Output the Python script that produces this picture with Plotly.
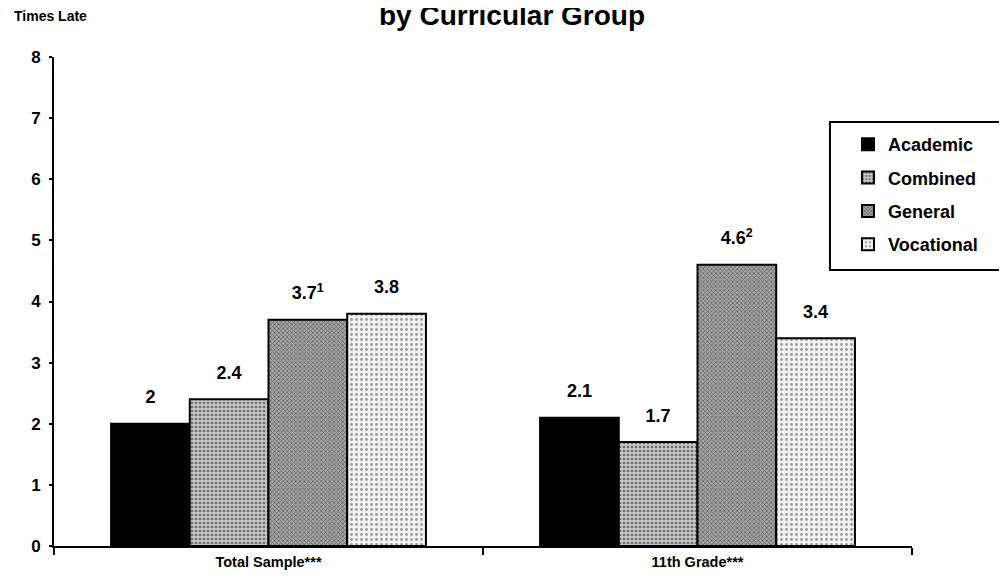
import plotly.graph_objects as go

categories = ["Total Sample***", "11th Grade***"]
series_names = ["Academic", "Combined", "General", "Vocational"]
academic = [2, 2.1]
combined = [2.4, 1.7]
general = [3.7, 4.6]
vocational = [3.8, 3.4]
label_text = {
    "Academic": ["2", "2.1"],
    "Combined": ["2.4", "1.7"],
    "General": ["3.7<sup>1</sup>", "4.6<sup>2</sup>"],
    "Vocational": ["3.8", "3.4"],
}
y_ticks = [0, 1, 2, 3, 4, 5, 6, 7, 8]

values = {"Academic": academic, "Combined": combined, "General": general, "Vocational": vocational}
styles = {
    "Academic": dict(color="#000000", pattern=None),
    "Combined": dict(color="#b4b4b4", pattern=dict(shape=".", fgcolor="#6a6a6a", bgcolor="#c8c8c8", size=4, solidity=0.35, fillmode="replace")),
    "General": dict(color="#8c8c8c", pattern=dict(shape="x", fgcolor="#555555", bgcolor="#a8a8a8", size=3, solidity=0.4, fillmode="replace")),
    "Vocational": dict(color="#e4e4e4", pattern=dict(shape=".", fgcolor="#9a9a9a", bgcolor="#f2f2f2", size=5, solidity=0.25, fillmode="replace")),
}

FONT = "Arial, Liberation Sans, sans-serif"
BARGAP = 0.266
fig = go.Figure()
for name in series_names:
    st = styles[name]
    marker = dict(color=st["color"], line=dict(color="#000000", width=2))
    if st["pattern"]:
        marker["pattern"] = st["pattern"]
    fig.add_trace(go.Bar(
        name=name, x=categories, y=values[name],
        marker=marker, legendgroup=name, offsetgroup=name, alignmentgroup="a",
        hoverinfo="x+y+name",
    ))
for name in series_names:
    fig.add_trace(go.Scatter(
        x=categories, y=values[name], text=label_text[name],
        mode="markers+text", textposition="top center", cliponaxis=False,
        marker=dict(size=24, color="rgba(0,0,0,0)"),
        textfont=dict(family=FONT, size=18, color="#000000", weight="bold"),
        offsetgroup=name, alignmentgroup="a", showlegend=False, hoverinfo="skip",
    ))

fig.update_layout(
    width=1007, height=581,
    margin=dict(l=46, r=103, t=49, b=43, autoexpand=False),
    paper_bgcolor="white", plot_bgcolor="white",
    barmode="group", bargap=BARGAP, bargroupgap=0,
    scattermode="group", scattergap=BARGAP,
    showlegend=True,
    legend=dict(x=0.9254, y=0.859, xanchor="left", yanchor="top",
                borderwidth=0, bgcolor="rgba(0,0,0,0)",
                font=dict(family=FONT, size=18, color="#000000", weight="bold"),
                traceorder="grouped", tracegroupgap=7, itemwidth=30),
    font=dict(family=FONT, color="#000000"),
)
# legend frame
fig.add_shape(type="rect", xref="paper", yref="paper", x0=0.9044, x1=1.1026, y0=0.5644, y1=0.8671,
              line=dict(color="#000000", width=2), fillcolor="rgba(0,0,0,0)", layer="below")
fig.update_yaxes(range=[0, 8], tickvals=y_ticks, showgrid=False, zeroline=False,
                 showline=True, linecolor="#000000", linewidth=2, automargin=False,
                 ticks="outside", ticklen=3, tickwidth=1.5, tickcolor="#000000",
                 ticklabelstandoff=5,
                 tickfont=dict(family=FONT, size=17, color="#000000", weight="bold"))
fig.update_xaxes(showgrid=False, showline=True, linecolor="#000000", linewidth=2, automargin=False,
                 ticks="outside", tickson="boundaries", ticklen=7, tickwidth=2, tickcolor="#000000",
                 ticklabelstandoff=2,
                 tickfont=dict(family=FONT, size=14.5, color="#000000", weight="bold"))
fig.add_annotation(text="<b>by Curricular Group</b>", xref="paper", yref="paper", x=0.534, y=1.050,
                   xanchor="center", yanchor="bottom", showarrow=False,
                   font=dict(family=FONT, size=28, color="#000000"))
fig.add_annotation(text="<b>Times Late</b>", xref="paper", yref="paper", x=-0.049, y=(546 - 16) / 489,
                   xanchor="left", yanchor="middle", showarrow=False,
                   font=dict(family=FONT, size=14, color="#000000"))
fig.write_html("out.html")
